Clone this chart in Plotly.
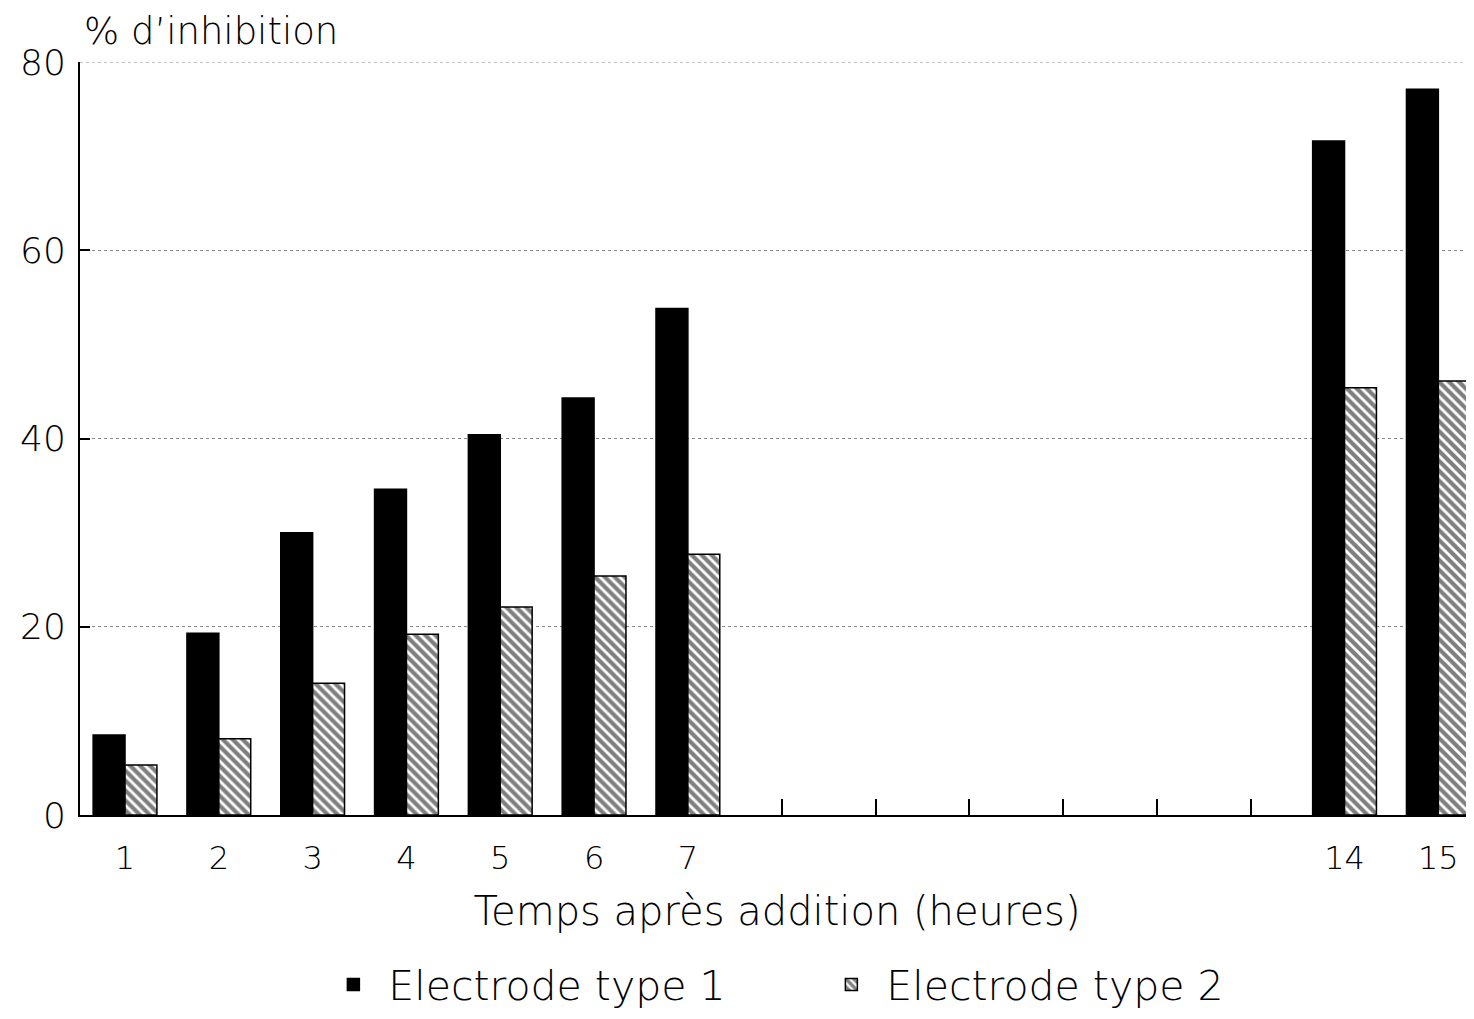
import plotly.graph_objects as go

hours = [1, 2, 3, 4, 5, 6, 7, 14, 15]
hour_labels = ["1", "2", "3", "4", "5", "6", "7", "14", "15"]
type1 = [8.5, 19.3, 30.0, 34.6, 40.4, 44.3, 53.8, 71.6, 77.1]
type2 = [5.3, 8.1, 14.0, 19.2, 22.1, 25.4, 27.7, 45.4, 46.1]
unlabeled_hours = [8, 9, 10, 11, 12, 13]
y_ticks = [0, 20, 40, 60, 80]

FONT = "DejaVu Sans"
W = 200
fig = go.Figure()
fig.add_trace(go.Bar(
    x=hours, y=type1, name="Electrode type 1",
    marker=dict(color="black", line=dict(color="black", width=1.5)),
))
fig.add_trace(go.Bar(
    x=hours, y=type2, name="Electrode type 2",
    marker=dict(color="white", line=dict(color="black", width=1.5),
                pattern=dict(shape="\\", fgcolor="black", bgcolor="white",
                             size=7, solidity=0.6)),
))
# invisible trace to activate the secondary x axis for the unlabeled ticks
fig.add_trace(go.Scatter(x=unlabeled_hours, y=[0] * len(unlabeled_hours), xaxis="x2",
                         mode="markers", marker=dict(opacity=0), showlegend=False,
                         hoverinfo="skip"))

fig.update_layout(
    width=1466, height=1011,
    paper_bgcolor="white", plot_bgcolor="white",
    margin=dict(l=72, r=0, t=54, b=204),
    barmode="group", bargap=0.32, bargroupgap=0,
    font=dict(family=FONT, color="black", weight=W),
    xaxis=dict(
        range=[0.52, 15.38], tickmode="array", tickvals=hours, ticktext=hour_labels,
        ticks="", showgrid=False, zeroline=False, showline=True, linecolor="black",
        linewidth=2, tickfont=dict(size=32, family=FONT, weight=W), ticklabelstandoff=14,
        automargin=False,
        title=dict(text="Temps après addition (heures)", font=dict(size=40, family=FONT, weight=W),
                   standoff=21),
    ),
    xaxis2=dict(
        overlaying="x", range=[0.52, 15.38], tickmode="array", tickvals=unlabeled_hours,
        ticktext=[""] * len(unlabeled_hours), ticks="inside", ticklen=16, tickwidth=2,
        tickcolor="black", showgrid=False, zeroline=False, showline=False, side="bottom",
        anchor="y", automargin=False,
    ),
    yaxis=dict(
        range=[0, 80], tickmode="array", tickvals=y_ticks,
        ticks="inside", ticklen=10, tickwidth=2, tickcolor="black",
        showline=True, linecolor="black", linewidth=2, zeroline=False,
        showgrid=True, gridcolor="#888888", griddash="dot", gridwidth=1,
        tickfont=dict(size=36, family=FONT, weight=W), ticklabelstandoff=5,
        automargin=False,
    ),
    shapes=[dict(type="line", xref="paper", yref="y", x0=0, x1=1, y0=y_ticks[-1], y1=y_ticks[-1],
                 line=dict(color="#888888", width=1, dash="dot"), layer="below")],
    legend=dict(orientation="h", x=0.171, xanchor="left", y=-0.27, yanchor="bottom",
                font=dict(size=41, family=FONT, weight=W), itemwidth=60,
                entrywidth=423, entrywidthmode="pixels", traceorder="normal"),
    annotations=[dict(text="% d’inhibition", xref="paper", yref="paper", x=0, y=1,
                      xanchor="left", yanchor="top", xshift=2, yshift=54, showarrow=False,
                      font=dict(size=37, family=FONT, weight=W))],
)
fig.write_html("out.html")
